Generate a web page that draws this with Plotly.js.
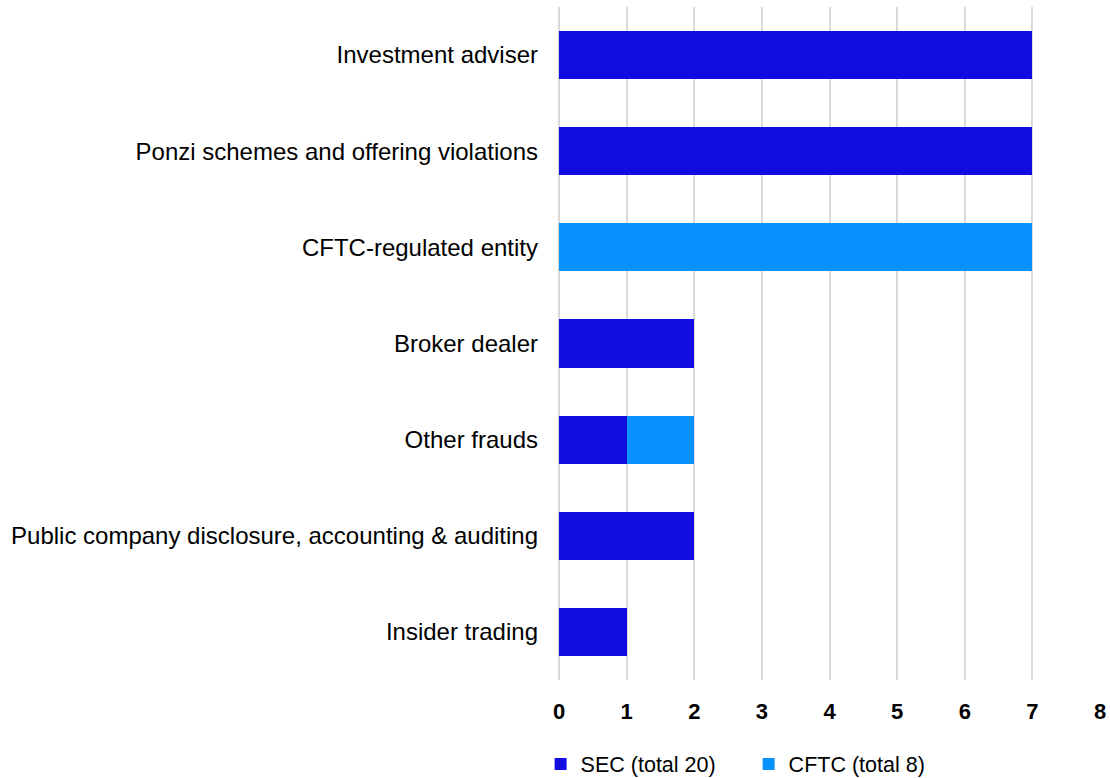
<!DOCTYPE html>
<html>
<head>
<meta charset="utf-8">
<script src="https://cdn.plot.ly/plotly-3.0.1.min.js"></script>
<style>html,body{margin:0;padding:0;background:#fff;}#chart{width:1110px;height:778px;}</style>
</head>
<body>
<div id="chart"></div>
<script>
const categories = [
  "Investment adviser",
  "Ponzi schemes and offering violations",
  "CFTC-regulated entity",
  "Broker dealer",
  "Other frauds",
  "Public company disclosure, accounting & auditing",
  "Insider trading"
];
const secValues = [7, 7, 0, 2, 1, 2, 1];
const cftcValues = [0, 0, 7, 0, 1, 0, 0];
const seriesNames = ["SEC (total 20)", "CFTC (total 8)"];
const xTicks = [0, 1, 2, 3, 4, 5, 6, 7, 8];

const FONT = "Arial, 'Liberation Sans', sans-serif";

const traces = [
  {type: "bar", orientation: "h", name: seriesNames[0], y: categories, x: secValues,
   marker: {color: "#130ce0"}, hoverinfo: "x+y"},
  {type: "bar", orientation: "h", name: seriesNames[1], y: categories, x: cftcValues,
   marker: {color: "#0892fe"}, hoverinfo: "x+y"}
];

const layout = {
  width: 1110, height: 778,
  margin: {l: 559, r: 10, t: 7, b: 98, pad: 0},
  paper_bgcolor: "#ffffff", plot_bgcolor: "#ffffff",
  barmode: "stack", bargap: 0.5,
  font: {family: FONT, color: "#000000"},
  showlegend: true,
  legend: {orientation: "h", x: -0.034, xanchor: "left", yref: "container", y: 0.018, yanchor: "middle",
           font: {size: 21.5, family: FONT, color: "#000"}, entrywidth: 163, entrywidthmode: "pixels",
           itemwidth: 30, traceorder: "normal", bgcolor: "rgba(0,0,0,0)", borderwidth: 0},
  xaxis: {range: [0, 8], tickvals: xTicks, ticktext: xTicks.map(String), showgrid: true,
          gridcolor: "#d9d9d9", gridwidth: 2, zeroline: true, zerolinecolor: "#d9d9d9", zerolinewidth: 2,
          showline: false, ticks: "", ticklabelstandoff: 16, automargin: false,
          tickfont: {size: 22, family: FONT, color: "#000", weight: "bold"}, fixedrange: true},
  yaxis: {autorange: "reversed", type: "category", showgrid: false, zeroline: false, showline: false,
          ticks: "", ticklabelstandoff: 20, automargin: false,
          tickfont: {size: 24, family: FONT, color: "#000"}, fixedrange: true}
};

Plotly.newPlot("chart", traces, layout, {displayModeBar: false, staticPlot: true});
</script>
</body>
</html>
